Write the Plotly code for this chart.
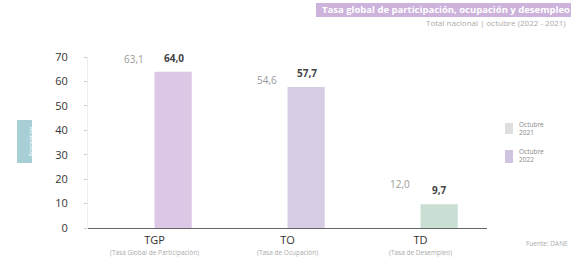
import plotly.graph_objects as go

W, H = 571, 257
categories = ["TGP", "TO", "TD"]
subtitles = ["(Tasa Global de Participación)", "(Tasa de Ocupación)", "(Tasa de Desempleo)"]
series_names = ["Octubre<br>2021", "Octubre<br>2022"]
oct_2021 = [63.1, 54.6, 12.0]
oct_2022 = [64.0, 57.7, 9.7]
y_ticks = [0, 10, 20, 30, 40, 50, 60, 70]

def fmt(v):
    return f"{v:.1f}".replace(".", ",")

def px(x):
    return x / W

def py(y):
    return 1 - y / H

col_2021 = "#ffffff"
col_2022 = ["#dcc7e7", "#d6cde5", "#c9dfd3"]

fig = go.Figure()
fig.add_trace(go.Bar(x=categories, y=oct_2021, name="2021",
                     marker=dict(color=col_2021, line=dict(width=0)),
                     showlegend=False, hoverinfo="skip"))
fig.add_trace(go.Bar(x=categories, y=oct_2022, name="2022",
                     marker=dict(color=col_2022, line=dict(width=0)),
                     showlegend=False, hoverinfo="skip"))

annotations = []
for c, v in zip(categories, oct_2021):
    annotations.append(dict(x=c, y=v, xref="x", yref="y", text=fmt(v), showarrow=False,
                            xshift=-21, yshift=6, yanchor="bottom",
                            font=dict(size=10, color="#9a9a9a", family="Open Sans")))
for c, v in zip(categories, oct_2022):
    annotations.append(dict(x=c, y=v, xref="x", yref="y", text="<b>" + fmt(v) + "</b>", showarrow=False,
                            xshift=19, yshift=5, yanchor="bottom",
                            font=dict(size=10, color="#444", family="Open Sans")))
for c, s in zip(categories, subtitles):
    annotations.append(dict(x=c, y=py(252), xref="x", yref="paper", text=s, showarrow=False,
                            yanchor="middle",
                            font=dict(size=6.5, color="#aaaaaa", family="Open Sans")))

# title band
annotations.append(dict(x=px(320), y=py(10), xref="paper", yref="paper",
                        text="<b>Tasa global de participación, ocupación y desempleo</b>",
                        showarrow=False, xanchor="left", yanchor="middle",
                        font=dict(size=9.5, color="white", family="Open Sans")))
annotations.append(dict(x=px(568), y=py(22), xref="paper", yref="paper",
                        text="Total nacional | octubre (2022 - 2021)",
                        showarrow=False, xanchor="right", yanchor="middle",
                        font=dict(size=8, color="#aaaaaa", family="Open Sans")))
# y title box
annotations.append(dict(x=px(24.5), y=py(141), xref="paper", yref="paper",
                        text="Porcentaje", textangle=-90, showarrow=False,
                        font=dict(size=6, color="white", family="Open Sans")))
# legend text
annotations.append(dict(x=px(517), y=py(128), xref="paper", yref="paper",
                        text=series_names[0], showarrow=False, xanchor="left", align="left",
                        font=dict(size=6.5, color="#888", family="Open Sans")))
annotations.append(dict(x=px(517), y=py(155), xref="paper", yref="paper",
                        text=series_names[1], showarrow=False, xanchor="left", align="left",
                        font=dict(size=6.5, color="#888", family="Open Sans")))
# source
annotations.append(dict(x=px(524), y=py(250), xref="paper", yref="paper",
                        text="Fuente: DANE", showarrow=False, xanchor="left",
                        font=dict(size=6.5, color="#aaaaaa", family="Open Sans")))

shapes = [
    dict(type="rect", xref="paper", yref="paper", x0=px(316), x1=px(571), y0=py(17), y1=py(3),
         fillcolor="#cdb3dc", line=dict(width=0), layer="below"),
    dict(type="rect", xref="paper", yref="paper", x0=px(17), x1=px(32), y0=py(163), y1=py(120),
         fillcolor="#a9cfd6", line=dict(width=0)),
    dict(type="rect", xref="paper", yref="paper", x0=px(505), x1=px(513), y0=py(134), y1=py(123),
         fillcolor="#dedede", line=dict(width=0)),
    dict(type="rect", xref="paper", yref="paper", x0=px(505), x1=px(513), y0=py(163), y1=py(150),
         fillcolor="#cfc4e0", line=dict(width=0)),
]

fig.update_layout(
    width=W, height=H,
    margin=dict(l=0, r=0, t=0, b=0),
    paper_bgcolor="white", plot_bgcolor="white",
    barmode="group", bargap=0.44, bargroupgap=0,
    font=dict(family="Open Sans", color="#333"),
    annotations=annotations, shapes=shapes,
    xaxis=dict(domain=[px(88), px(487)], tickmode="array", tickvals=categories,
               showline=False, showgrid=False, ticks="", tickfont=dict(size=11, color="#333"),
               ticklabelstandoff=4, automargin=False),
    yaxis=dict(domain=[py(228), py(57)], range=[0, 70], tickvals=y_ticks,
               showgrid=False, zeroline=True, zerolinecolor="#666", zerolinewidth=1.3,
               showline=True, linecolor="#eeeeee", ticks="outside", ticklen=3, tickcolor="#cccccc",
               tickfont=dict(size=11, color="#333"), ticklabelstandoff=14, automargin=False),
)

fig.write_html("out.html", config={"displayModeBar": False},
               post_script="document.body.style.margin='0';document.body.style.overflow='hidden';")
